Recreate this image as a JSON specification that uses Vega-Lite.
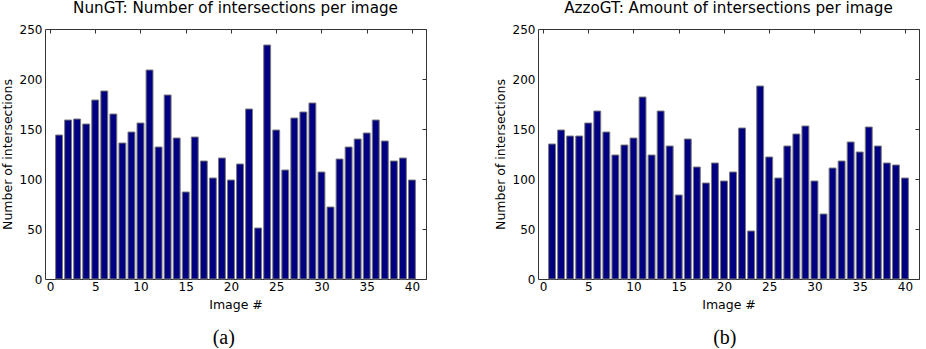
{
  "$schema": "https://vega.github.io/schema/vega-lite/v6.json",
  "background": "white",
  "padding": {"left": 0, "top": 0, "right": 0, "bottom": 0},
  "datasets": {
    "nun": [
      {"image": 1, "count": 144}, {"image": 2, "count": 159}, {"image": 3, "count": 160}, {"image": 4, "count": 155},
      {"image": 5, "count": 179}, {"image": 6, "count": 188}, {"image": 7, "count": 165}, {"image": 8, "count": 136},
      {"image": 9, "count": 147}, {"image": 10, "count": 156}, {"image": 11, "count": 209}, {"image": 12, "count": 132},
      {"image": 13, "count": 184}, {"image": 14, "count": 141}, {"image": 15, "count": 87}, {"image": 16, "count": 142},
      {"image": 17, "count": 118}, {"image": 18, "count": 101}, {"image": 19, "count": 121}, {"image": 20, "count": 99},
      {"image": 21, "count": 115}, {"image": 22, "count": 170}, {"image": 23, "count": 51}, {"image": 24, "count": 234},
      {"image": 25, "count": 149}, {"image": 26, "count": 109}, {"image": 27, "count": 161}, {"image": 28, "count": 167},
      {"image": 29, "count": 176}, {"image": 30, "count": 107}, {"image": 31, "count": 72}, {"image": 32, "count": 120},
      {"image": 33, "count": 132}, {"image": 34, "count": 140}, {"image": 35, "count": 146}, {"image": 36, "count": 159},
      {"image": 37, "count": 138}, {"image": 38, "count": 118}, {"image": 39, "count": 121}, {"image": 40, "count": 99}
    ],
    "azzo": [
      {"image": 1, "count": 135}, {"image": 2, "count": 149}, {"image": 3, "count": 143}, {"image": 4, "count": 143},
      {"image": 5, "count": 156}, {"image": 6, "count": 168}, {"image": 7, "count": 147}, {"image": 8, "count": 124},
      {"image": 9, "count": 134}, {"image": 10, "count": 141}, {"image": 11, "count": 182}, {"image": 12, "count": 124},
      {"image": 13, "count": 168}, {"image": 14, "count": 133}, {"image": 15, "count": 84}, {"image": 16, "count": 140},
      {"image": 17, "count": 112}, {"image": 18, "count": 96}, {"image": 19, "count": 116}, {"image": 20, "count": 98},
      {"image": 21, "count": 107}, {"image": 22, "count": 151}, {"image": 23, "count": 48}, {"image": 24, "count": 193},
      {"image": 25, "count": 122}, {"image": 26, "count": 101}, {"image": 27, "count": 133}, {"image": 28, "count": 145},
      {"image": 29, "count": 153}, {"image": 30, "count": 98}, {"image": 31, "count": 65}, {"image": 32, "count": 111},
      {"image": 33, "count": 118}, {"image": 34, "count": 137}, {"image": 35, "count": 127}, {"image": 36, "count": 152},
      {"image": 37, "count": 133}, {"image": 38, "count": 116}, {"image": 39, "count": 114}, {"image": 40, "count": 101}
    ]
  },
  "config": {
    "font": "DejaVu Sans",
    "view": {"stroke": "#333333", "strokeWidth": 1},
    "axis": {
      "grid": false,
      "domain": false,
      "tickColor": "#333333",
      "labelColor": "#000000",
      "labelFontSize": 12,
      "titleFontSize": 12.5,
      "titleFontWeight": "normal",
      "titleColor": "#000000",
      "labelFont": "DejaVu Sans",
      "titleFont": "DejaVu Sans"
    }
  },
  "spacing": 66,
  "hconcat": [
    {
      "title": {"text": "(a)", "orient": "bottom", "anchor": "middle", "font": "Liberation Serif", "fontSize": 20, "fontWeight": "normal", "color": "#000000", "offset": 17, "dx": 10},
      "vconcat": [
        {
          "title": {"text": "NunGT: Number of intersections per image", "frame": "group", "fontSize": 15.2, "fontWeight": "normal", "color": "#000000", "offset": 6.5},
          "width": 381,
          "height": 250,
          "data": {"name": "nun"},
          "layer": [
            {
              "mark": {"type": "bar", "width": 6.9, "color": "#000080", "stroke": "#7a7a7a", "strokeWidth": 1},
              "encoding": {
                "x": {"field": "image", "type": "quantitative", "scale": {"domain": [0, 41], "nice": false, "zero": false},
                      "axis": {"values": [0, 5, 10, 15, 20, 25, 30, 35, 40], "title": "Image #", "ticks": false, "labelPadding": 2, "labelFlush": false, "titlePadding": 6}},
                "y": {"field": "count", "type": "quantitative", "scale": {"domain": [0, 250], "nice": false},
                      "axis": {"values": [0, 50, 100, 150, 200, 250], "title": "Number of intersections", "ticks": false, "labelPadding": 3, "titlePadding": 5}}
              }
            },
            {
              "mark": {"type": "point", "opacity": 0},
              "encoding": {
                "x": {"field": "image", "type": "quantitative", "axis": {"orient": "top", "values": [0, 5, 10, 15, 20, 25, 30, 35, 40], "labels": false, "title": null, "tickSize": -4}},
                "y": {"field": "count", "type": "quantitative", "axis": {"orient": "right", "values": [0, 50, 100, 150, 200, 250], "labels": false, "title": null, "tickSize": -4}}
              }
            }
          ],
          "resolve": {"axis": {"x": "independent", "y": "independent"}}
        }
      ]
    },
    {
      "title": {"text": "(b)", "orient": "bottom", "anchor": "middle", "font": "Liberation Serif", "fontSize": 20, "fontWeight": "normal", "color": "#000000", "offset": 17, "dx": 18},
      "vconcat": [
        {
          "title": {"text": "AzzoGT: Amount of intersections per image", "frame": "group", "fontSize": 15.2, "fontWeight": "normal", "color": "#000000", "offset": 6.5},
          "width": 381,
          "height": 250,
          "data": {"name": "azzo"},
          "layer": [
            {
              "mark": {"type": "bar", "width": 6.9, "color": "#000080", "stroke": "#7a7a7a", "strokeWidth": 1},
              "encoding": {
                "x": {"field": "image", "type": "quantitative", "scale": {"domain": [0, 41], "nice": false, "zero": false},
                      "axis": {"values": [0, 5, 10, 15, 20, 25, 30, 35, 40], "title": "Image #", "ticks": false, "labelPadding": 2, "labelFlush": false, "titlePadding": 6}},
                "y": {"field": "count", "type": "quantitative", "scale": {"domain": [0, 250], "nice": false},
                      "axis": {"values": [0, 50, 100, 150, 200, 250], "title": "Number of intersections", "ticks": false, "labelPadding": 3, "titlePadding": 5}}
              }
            },
            {
              "mark": {"type": "point", "opacity": 0},
              "encoding": {
                "x": {"field": "image", "type": "quantitative", "axis": {"orient": "top", "values": [0, 5, 10, 15, 20, 25, 30, 35, 40], "labels": false, "title": null, "tickSize": -4}},
                "y": {"field": "count", "type": "quantitative", "axis": {"orient": "right", "values": [0, 50, 100, 150, 200, 250], "labels": false, "title": null, "tickSize": -4}}
              }
            }
          ],
          "resolve": {"axis": {"x": "independent", "y": "independent"}}
        }
      ]
    }
  ]
}
